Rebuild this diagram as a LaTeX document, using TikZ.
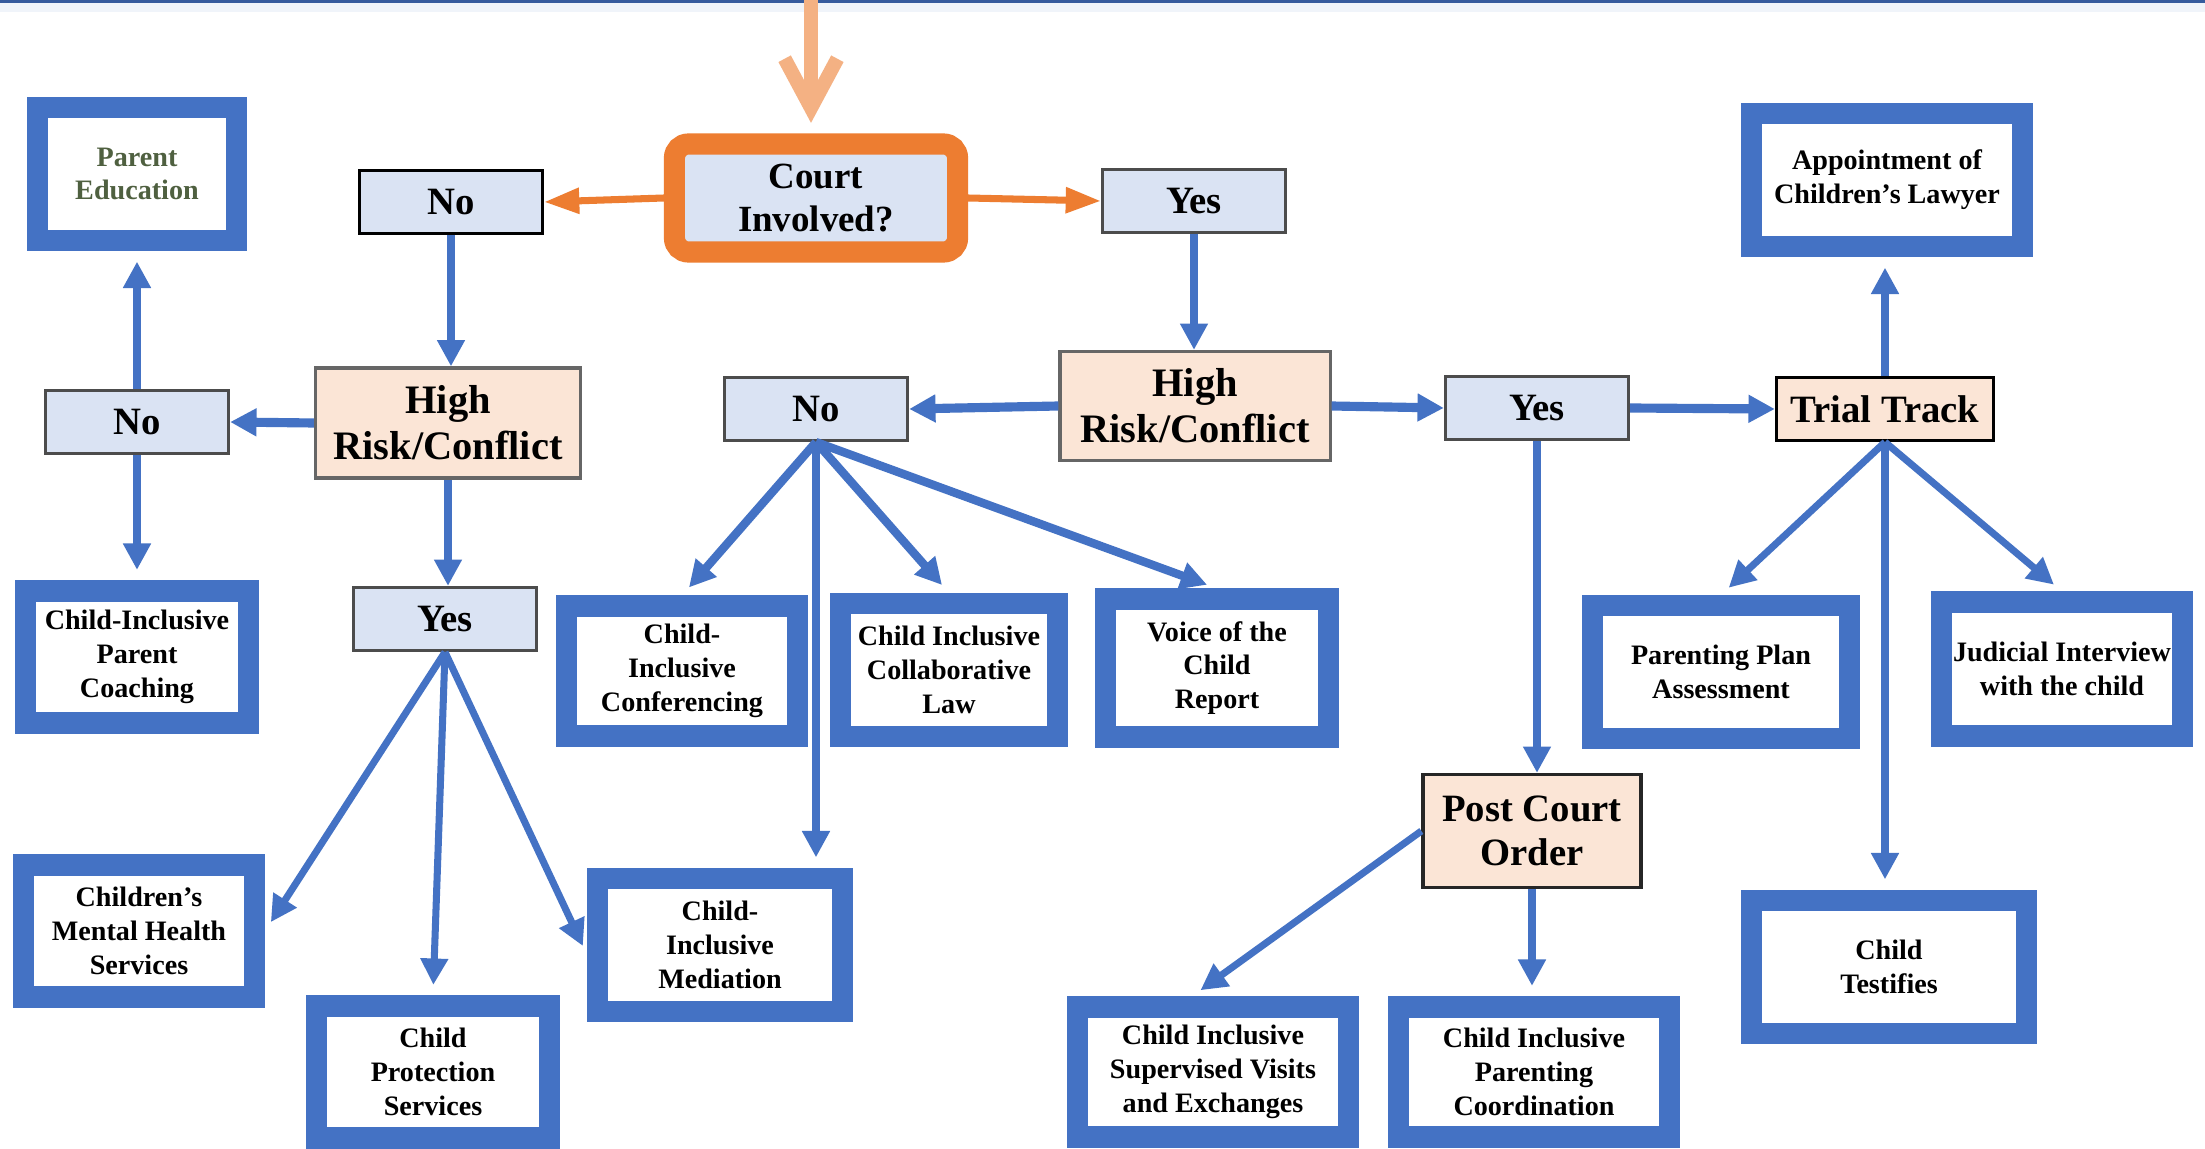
\documentclass[tikz,border=0pt]{standalone}
\usepackage{fontspec}
\setmainfont{Liberation Serif}
\usepackage{xcolor}
\usetikzlibrary{arrows.meta}
\definecolor{boxblue}{HTML}{4472C4}
\definecolor{paleblue}{HTML}{DAE3F3}
\definecolor{peach}{HTML}{FBE5D6}
\definecolor{courtorange}{HTML}{ED7D31}
\definecolor{salmon}{HTML}{F4B183}
\definecolor{edutext}{HTML}{4F6040}

\begin{document}
\begin{tikzpicture}[x=0.01cm, y=-0.01cm, every node/.style={font=\bfseries, align=center, inner sep=1pt},
  answer/.style={draw=gray!60!black, fill=paleblue, line width=0.9pt, minimum width=1.83cm, minimum height=0.63cm, font=\bfseries\fontsize{11}{12}\selectfont},
  risk/.style={draw=gray!80!black, fill=peach, line width=0.9pt, font=\bfseries\fontsize{11.5}{13}\selectfont},
  service/.style={draw=boxblue, fill=white, line width=6pt, font=\bfseries\fontsize{8}{9.6}\selectfont},
  flow/.style={boxblue, line width=2pt, -{Triangle[length=7.5pt,width=7.5pt]}},
  bigflow/.style={flow, line width=2.6pt},
  intobox/.style={shorten >=3pt}]
\useasboundingbox (0,0) rectangle (2205,1149);
\fill[white] (0,0) rectangle (2205,1149);
\fill[paleblue!40] (0,3) rectangle (2205,12);
\draw[boxblue!80!black, line width=0.9pt] (0,1.5) -- (2205,1.5);

% Court question
\node[draw=courtorange, fill=paleblue, line width=6pt, rounded corners=4pt, minimum width=2.83cm, minimum height=1.08cm, font=\bfseries\fontsize{10.5}{12.4}\selectfont] (court) at (816,198) {Court\\Involved?};
\coordinate (entry) at (811,0);
\draw[salmon, line width=4pt, shorten >=3pt, -{Straight Barb[length=14pt,width=15pt]}] (entry) -- (entry |- court.north);
\node[answer, draw=black] (no1) at (451,202) {No};
\node[answer] (yes1) at (1194,201) {Yes};
\draw[courtorange, line width=2pt, -{Triangle[length=10pt,width=7pt]}] (court.west) -- (no1.east);
\draw[courtorange, line width=2pt, -{Triangle[length=10pt,width=7pt]}] (court.east) -- (yes1.west);

% No court
\node[risk, minimum width=2.65cm, minimum height=1.10cm] (risk1) at (448,423) {High\\Risk/Conflict};
\node[answer] (no2) at (137,422) {No};
\node[answer] (yes2) at (445,619) {Yes};
\node[service, minimum width=1.99cm, minimum height=1.33cm, text=edutext] (parented) at (137,174) {Parent\\Education};
\node[service, minimum width=2.23cm, minimum height=1.32cm] (coaching) at (137,657) {Child-Inclusive\\Parent\\Coaching};
\node[service, minimum width=2.31cm, minimum height=1.32cm] (mental) at (139,931) {Children's\\Mental Health\\Services};
\node[service, minimum width=2.32cm, minimum height=1.32cm] (protect) at (433,1072) {Child\\Protection\\Services};
\node[service, minimum width=2.44cm, minimum height=1.33cm] (mediate) at (720,945) {Child-\\Inclusive\\Mediation};
\draw[flow] (no1.south) -- (no1.south |- risk1.north);
\draw[bigflow] (risk1.west) -- (no2.east);
\draw[flow, intobox] (no2.north) -- (parented.south);
\draw[flow, intobox] (no2.south) -- (coaching.north);
\draw[flow] (risk1.south) -- (risk1.south |- yes2.north);
\draw[flow, intobox] (yes2.south) -- (mental.east);
\draw[flow, intobox] (yes2.south) -- (protect.north);
\draw[flow, intobox] (yes2.south) -- ([yshift=-3pt]mediate.west);

% Court, no high risk
\node[risk, minimum width=2.70cm, minimum height=1.09cm] (risk2) at (1195,406) {High\\Risk/Conflict};
\node[answer] (no3) at (816,409) {No};
\node[service, minimum width=2.30cm, minimum height=1.30cm] (confer) at (682,671) {Child-\\Inclusive\\Conferencing};
\node[service, minimum width=2.17cm, minimum height=1.33cm] (collab) at (949,670) {Child Inclusive\\Collaborative\\Law};
\node[service, minimum width=2.22cm, minimum height=1.38cm] (voice) at (1217,668) {Voice of the\\Child\\Report};
\draw[flow] (yes1.south) -- (yes1.south |- risk2.north);
\draw[bigflow] (risk2.west) -- (no3.east);
\draw[flow, line width=2.4pt, intobox] (no3.south) -- (confer.north);
\draw[flow, line width=2.4pt, intobox] (no3.south) -- (collab.north);
\draw[flow, line width=2.4pt, intobox] (no3.south) -- (voice.north);
\draw[flow, intobox] (no3.south) -- (no3.south |- mediate.north);

% Court, high risk
\node[answer] (yes3) at (1537,408) {Yes};
\node[risk, draw=black, minimum width=2.17cm, minimum height=0.63cm, font=\bfseries\fontsize{11}{12}\selectfont] (trial) at (1885,409) {Trial Track};
\node[risk, draw=black!85, minimum width=2.18cm, minimum height=1.13cm, font=\bfseries\fontsize{11}{12.4}\selectfont] (post) at (1532,831) {Post Court\\Order};
\node[service, minimum width=2.71cm, minimum height=1.33cm] (lawyer) at (1887,180) {Appointment of\\Children's Lawyer};
\node[service, minimum width=2.57cm, minimum height=1.33cm] (planassess) at (1721,672) {Parenting Plan\\Assessment};
\node[service, minimum width=2.41cm, minimum height=1.34cm] (interview) at (2062,669) {Judicial Interview\\with the child};
\node[service, minimum width=2.74cm, minimum height=1.33cm] (testify) at (1889,967) {Child\\Testifies};
\node[service, minimum width=2.70cm, minimum height=1.30cm] (visits) at (1213,1072) {Child Inclusive\\Supervised Visits\\and Exchanges};
\node[service, minimum width=2.70cm, minimum height=1.30cm] (coord) at (1534,1072) {Child Inclusive\\Parenting\\Coordination};
\draw[bigflow] (risk2.east) -- (yes3.west);
\draw[bigflow] (yes3.east) -- (trial.west);
\draw[flow] (yes3.south) -- (yes3.south |- post.north);
\draw[flow, intobox] (post.west) -- ([xshift=-6pt]visits.north);
\draw[flow, intobox] (post.south) -- (post.south |- coord.north);
\draw[flow, intobox] (trial.north) -- (trial.north |- lawyer.south);
\draw[flow, intobox] (trial.south) -- (planassess.north);
\draw[flow, intobox] (trial.south) -- (trial.south |- testify.north);
\draw[flow, intobox] (trial.south) -- (interview.north);
\end{tikzpicture}
\end{document}
